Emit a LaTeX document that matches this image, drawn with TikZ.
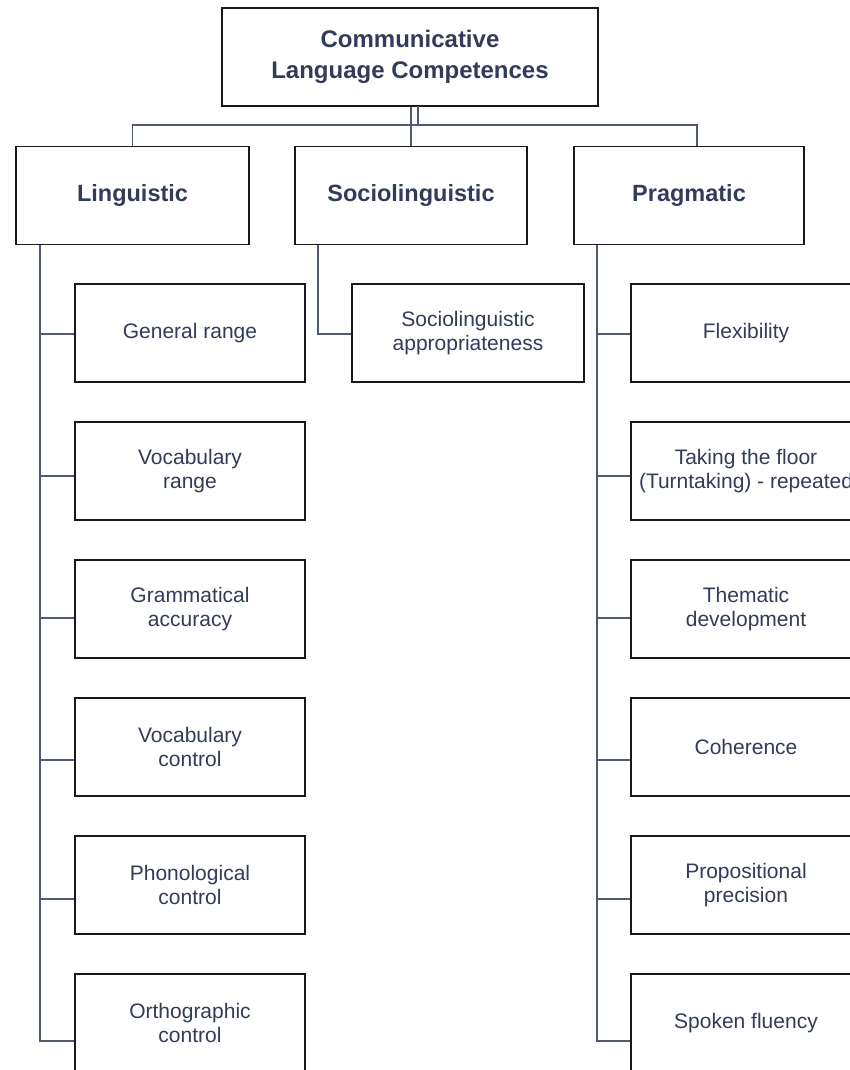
\documentclass[tikz,border=0pt]{standalone}
\usepackage{fontspec}
\setmainfont{Liberation Sans}
\usetikzlibrary{calc}
\definecolor{txt}{RGB}{50,60,90}
\definecolor{lnk}{RGB}{80,90,112}
\definecolor{brd}{RGB}{25,25,25}
\begin{document}
\begin{tikzpicture}[x=1pt,y=-1pt,
  box/.style={draw=brd,line width=1.7pt,rectangle,inner sep=2pt,align=center,text=txt,fill=white},
  topbox/.style={box,minimum width=376pt,minimum height=98pt,font=\bfseries\fontsize{24}{31}\selectfont},
  midbox/.style={box,minimum height=98pt,font=\bfseries\fontsize{23.5}{28}\selectfont},
  leaf/.style={box,minimum width=230pt,minimum height=98pt,font=\fontsize{21}{23.5}\selectfont},
  link/.style={draw=lnk,line width=1.4pt}]
\clip (0,0) rectangle (850,1070);
\fill[white] (0,0) rectangle (850,1070);

\coordinate (bar) at (0,125);
\coordinate (lsp) at (40,0);
\coordinate (ssp) at (318,0);
\coordinate (psp) at (597,0);
\coordinate (ptop) at (697,146);
\coordinate (tjoin) at (418,106);

\node[topbox] (top) at (410,57) {Communicative\\Language Competences};
\node[midbox,minimum width=233pt] (ling) at (132.5,195.5) {Linguistic};
\node[midbox,minimum width=232pt] (soc) at (411,195.5) {Sociolinguistic};
\node[midbox,minimum width=230pt] (prag) at (689,195.5) {Pragmatic};

\node[leaf] (l1) at (190,333) {General range};
\node[leaf] (l2) at (190,471) {Vocabulary\\range};
\node[leaf] (l3) at (190,609) {Grammatical\\accuracy};
\node[leaf] (l4) at (190,747) {Vocabulary\\control};
\node[leaf] (l5) at (190,885) {Phonological\\control};
\node[leaf] (l6) at (190,1023) {Orthographic\\control};

\node[leaf,minimum width=232pt] (s1) at (468,333) {Sociolinguistic\\appropriateness};

\node[leaf] (p1) at (746,333) {Flexibility};
\node[leaf] (p2) at (746,471) {Taking the floor\\(Turntaking) - repeated};
\node[leaf] (p3) at (746,609) {Thematic\\development};
\node[leaf] (p4) at (746,747) {Coherence};
\node[leaf] (p5) at (746,885) {Propositional\\precision};
\node[leaf] (p6) at (746,1023) {Spoken fluency};

% top level
\draw[link] (soc.north |- top.south) -- (soc.north);
\draw[link] (tjoin) -- (tjoin |- bar);
\draw[link] (ling.north) |- (ptop |- bar) -- (ptop);

% linguistic spine
\draw[link] (lsp |- ling.south) -- (40,1041) -- (l6.west |- 0,1041);
\draw[link] (40,334) -- (l1.west |- 0,334);
\draw[link] (40,476) -- (l2.west |- 0,476);
\draw[link] (40,618) -- (l3.west |- 0,618);
\draw[link] (40,760) -- (l4.west |- 0,760);
\draw[link] (40,899) -- (l5.west |- 0,899);

% sociolinguistic
\draw[link] (ssp |- soc.south) |- (s1.west |- 0,334);

% pragmatic spine
\draw[link] (psp |- prag.south) -- (597,1041) -- (p6.west |- 0,1041);
\draw[link] (597,334) -- (p1.west |- 0,334);
\draw[link] (597,476) -- (p2.west |- 0,476);
\draw[link] (597,618) -- (p3.west |- 0,618);
\draw[link] (597,760) -- (p4.west |- 0,760);
\draw[link] (597,899) -- (p5.west |- 0,899);
\end{tikzpicture}
\end{document}
